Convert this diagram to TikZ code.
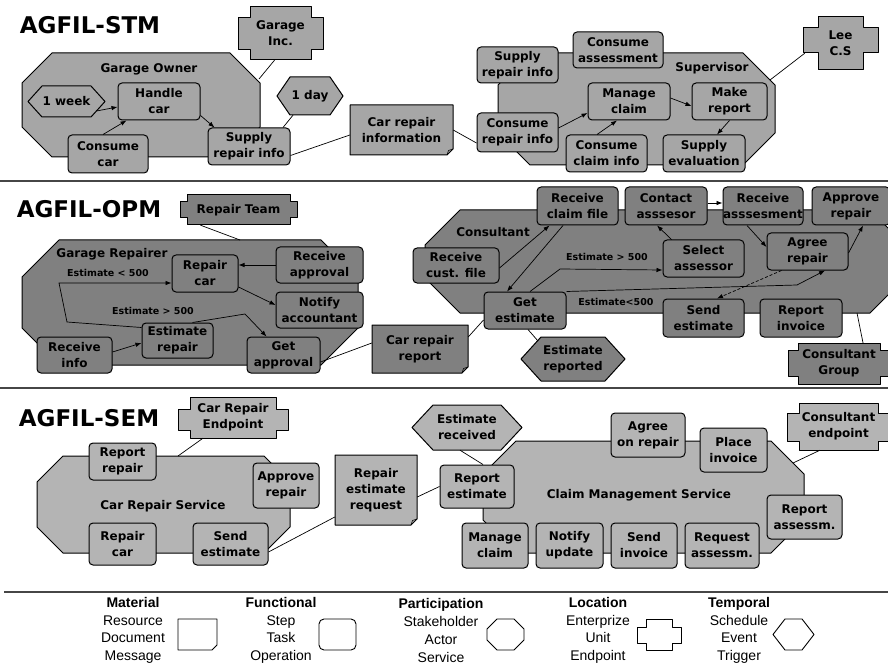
\documentclass[tikz,border=0pt]{standalone}
\usepackage{fontspec}
\setmainfont{DejaVu Sans}
\newfontfamily\legendfont{Liberation Sans}
\usetikzlibrary{arrows.meta,calc}

\definecolor{stmgray}{RGB}{166,166,166}
\definecolor{opmgray}{RGB}{128,128,128}
\definecolor{semgray}{RGB}{180,180,180}
\definecolor{rulegray}{RGB}{70,70,70}

\newcommand\dgnodefont{\fontsize{12}{16}\selectfont\bfseries}
\newcommand\dgsmallfont{\fontsize{9.5}{11}\selectfont\bfseries}
\newcommand\dgtitlefont{\fontsize{23}{26}\selectfont\bfseries}
\newcommand\dglegendfont{\legendfont\fontsize{14}{17.7}\selectfont}

\tikzset{
  shapeline/.style={draw=black, line width=1pt, line join=round},
  task/.style={shapeline, rounded corners=4pt, align=center, inner sep=0pt, font=\dgnodefont},
  lbl/.style={align=center, inner sep=0pt, font=\dgnodefont},
  small/.style={inner sep=0pt, font=\dgsmallfont},
  title/.style={inner sep=0pt, font=\dgtitlefont},
  legend/.style={align=center, inner sep=0pt, font=\dglegendfont},
  legline/.style={draw=black, line width=0.9pt, line join=round, fill=white},
  link/.style={draw=black, line width=0.7pt},
  flow/.style={link, -{Latex[length=6pt,width=4.5pt]}},
  rule/.style={draw=rulegray, line width=1.3pt},
}

% octagonal participant outline: x1 y1 x2 y2 cut fill
\newcommand\octa[6]{%
  \draw[shapeline, fill=#6] (#1+#5,#2) -- (#3-#5,#2) -- (#3,#2+#5) -- (#3,#4-#5)
    -- (#3-#5,#4) -- (#1+#5,#4) -- (#1,#4-#5) -- (#1,#2+#5) -- cycle;}

% cross-shaped location unit: name x1 y1 x2 y2 notch arm-top arm-bottom text
\newcommand\unitshape[9]{%
  \draw[shapeline, fill=\curfill] (#2+#6,#3) -- (#4-#6,#3) -- (#4-#6,#7) -- (#4,#7)
    -- (#4,#8) -- (#4-#6,#8) -- (#4-#6,#5) -- (#2+#6,#5) -- (#2+#6,#8) -- (#2,#8)
    -- (#2,#7) -- (#2+#6,#7) -- cycle;
  \node[lbl, minimum width={#4-#2}, minimum height={#5-#3}] (#1)
    at ({(#2+#4)/2},{(#3+#5)/2}) {#9};}

% hexagonal temporal element: name x1 y1 x2 y2 point text
\newcommand\hexshape[7]{%
  \draw[shapeline, fill=\curfill] (#2,{(#3+#5)/2}) -- (#2+#6,#3) -- (#4-#6,#3)
    -- (#4,{(#3+#5)/2}) -- (#4-#6,#5) -- (#2+#6,#5) -- cycle;
  \node[lbl, minimum width={#4-#2}, minimum height={#5-#3}] (#1)
    at ({(#2+#4)/2},{(#3+#5)/2}) {#7};}

% document with folded corner: name x1 y1 x2 y2 text
\newcommand\docshape[6]{%
  \draw[shapeline, fill=\curfill] (#2,#3) -- (#4,#3) -- (#4,#5-6) -- (#4-6,#5)
    -- (#2,#5) -- cycle;
  \draw[line width=0.6pt] (#4-6,#5) -- (#4-4.5,#5-4.5) -- (#4,#5-6);
  \node[lbl, minimum width={#4-#2}, minimum height={#5-#3}] (#1)
    at ({(#2+#4)/2},{(#3+#5)/2}) {#6};}

% rounded task box: name cx cy width height text
\newcommand\task[6]{%
  \node[task, fill=\curfill, minimum width=#4, minimum height=#5] (#1) at (#2,#3) {#6};}

\begin{document}
\begin{tikzpicture}[x=1pt,y=-1pt]
\useasboundingbox (0,0) rectangle (888,668);
\fill[white] (0,0) rectangle (888,668);

% ================= AGFIL-STM =================
\def\curfill{stmgray}
\node[title] (stm) at (90,25) {AGFIL-STM};
\octa{22}{53}{260}{157}{30}{stmgray}
\octa{498}{53}{775}{165}{32}{stmgray}
\node[lbl] (owner) at (149,69) {Garage Owner};
\node[lbl] (superv) at (712,68) {Supervisor};
\unitshape{garageinc}{238}{7}{323}{60}{12}{18}{50}{Garage\\Inc.}
\unitshape{lee}{803}{17}{878}{70}{15}{28}{53}{Lee\\C.S}
\hexshape{week}{28}{86}{105}{117}{14}{1 week}
\hexshape{day}{277}{77}{343}{115}{13}{1 day}
\docshape{carinfo}{350}{105}{453}{155}{Car repair\\information}
\task{handle}{159}{101.5}{82}{37}{Handle\\car}
\task{consumecar}{108}{154}{80}{38}{Consume\\car}
\task{supplyA}{249}{146.5}{82}{37}{Supply\\repair info}
\task{supplyB}{517.5}{65}{81}{36}{Supply\\repair info}
\task{consass}{618}{50}{90}{36}{Consume\\assessment}
\task{manage}{629}{101.5}{82}{37}{Manage\\claim}
\task{makerep}{729.5}{101.5}{75}{37}{Make\\report}
\task{conrep}{517.5}{132.5}{81}{39}{Consume\\repair info}
\task{conclaim}{606.5}{153.5}{81}{37}{Consume\\claim info}
\task{supeval}{704}{153.5}{82}{37}{Supply\\evaluation}

\coordinate (ownerNE) at (259,79);
\coordinate (supNE) at (770,80);
\draw[link] (ownerNE) -- ($(garageinc.south)+(-6,0)$);
\draw[link] ($(day.south)+(-17,0)$) -- ($(supplyA.north)+(34,0)$);
\draw[link] ($(supplyA.east)+(0,9)$) -- ($(carinfo.west)+(0,5)$);
\draw[link] (carinfo.east) -- ($(conrep.west)+(0,10.5)$);
\draw[link] ($(lee.south west)+(2,-17)$) -- (supNE);
\draw[flow] ($(week.center)+(30,9.5)$) -- ($(handle.west)+(0,5.5)$);
\draw[flow] ($(consumecar.north)+(-5,0)$) -- ($(handle.south west)+(9,0)$);
\draw[flow] ($(handle.south east)+(0,-5)$) -- ($(supplyA.north west)+(7,0)$);
\draw[flow] ($(conrep.east)+(0,-4.5)$) -- ($(manage.west)+(0,11.5)$);
\draw[flow] ($(conclaim.north)+(-9.5,0)$) -- ($(manage.south)+(-12,0)$);
\draw[flow] ($(manage.east)+(0,-3.5)$) -- ($(makerep.west)+(0,4.5)$);
\draw[flow] (makerep.south) -- ($(supeval.north)+(13,0)$);

\draw[rule] (0,181) -- (888,181);

% ================= AGFIL-OPM =================
\def\curfill{opmgray}
\node[title] (opm) at (89,209) {AGFIL-OPM};
\octa{22}{240}{358}{365}{37}{opmgray}
\octa{425}{210}{905}{313}{35}{opmgray}
\node[lbl] (garrep) at (112,254) {Garage Repairer};
\node[lbl] (consl) at (493,232) {Consultant};
\node[small] (ltA) at (108,273) {Estimate < 500};
\node[small] (gtA) at (153,311) {Estimate > 500};
\node[small] (gtB) at (607,257) {Estimate > 500};
\node[small] (ltB) at (616,302) {Estimate<500};
\unitshape{repteam}{180}{195}{297}{225}{7}{202}{218}{Repair Team}
\unitshape{congroup}{788}{343}{890}{384}{10}{350}{376}{Consultant\\Group}
\hexshape{estrepd}{521}{337}{625}{381}{20}{Estimate\\reported}
\docshape{carrep}{372}{325}{468}{373}{Car repair\\report}
\task{repaircar}{205}{273.5}{66}{37}{Repair\\car}
\task{recappr}{319.5}{265}{87}{36}{Receive\\approval}
\task{notify}{319.5}{310}{87}{36}{Notify\\accountant}
\task{estrep}{177.5}{340.5}{71}{35}{Estimate\\repair}
\task{recinfo}{74.5}{355}{75}{36}{Receive\\info}
\task{getappr}{283.5}{355}{73}{36}{Get\\approval}
\task{reccust}{456}{265.5}{86}{35}{Receive\\cust. file}
\task{recclaim}{577.5}{206}{81}{38}{Receive\\claim file}
\task{contact}{666}{206}{82}{38}{Contact\\asssesor}
\task{recass}{763}{206}{80}{38}{Receive\\asssesment}
\task{approve}{851}{206}{78}{38}{Approve\\repair}
\task{selass}{703.5}{258.5}{81}{37}{Select\\assessor}
\task{agree}{807.5}{251.5}{81}{37}{Agree\\repair}
\task{getest}{525}{310.5}{82}{37}{Get\\estimate}
\task{sendest}{703.5}{318}{81}{38}{Send\\estimate}
\task{repinv}{801}{318}{82}{38}{Report\\invoice}

\coordinate (grTop) at (240,240);
\coordinate (coBot) at (857,313);
\draw[link] ($(repteam.south)+(-38,0)$) -- (grTop);
\draw[link] ($(getappr.east)+(0,7)$) -- ($(carrep.west)+(0,-6)$);
\draw[link] ($(getest.west)+(0,9.5)$) -- ($(carrep.east)+(0,-12)$);
\draw[link] ($(getest.south)+(3,0)$) -- ($(estrepd.center)+(-35,-18)$);
\draw[link] ($(congroup.north)+(24,0)$) -- (coBot);
\draw[flow] (recappr.west) -- ($(repaircar.east)+(0,-8.5)$);
\draw[flow] ($(repaircar.east)+(0,13.5)$) -- ($(notify.west)+(0,-5)$);
\draw[flow] ($(recinfo.east)+(0,-3)$) -- ($(estrep.west)+(0,2.5)$);
\draw[flow] ($(estrep.north west)+(0,5)$) -- (67,322) -- (59,283)
  -- ($(repaircar.west)+(0,9.5)$);
\draw[flow] ($(estrep.north)+(15,0)$) -- (245,314) -- ($(getappr.north west)+(20,0)$);
\draw[flow] ($(reccust.east)+(0,2.5)$) -- ($(recclaim.south west)+(13,0)$);
\draw[flow] ($(recclaim.south)+(-14.5,0)$) -- ($(getest.north)+(-18,0)$);
\draw[flow] ($(selass.north west)+(9,0)$) -- ($(contact.south)+(-9,0)$);
\draw[flow] ($(contact.east)+(0,-3)$) -- ($(recass.west)+(0,-3)$);
\draw[flow] ($(recass.south)+(-16,0)$) -- ($(agree.west)+(0,-4.5)$);
\draw[flow] ($(agree.east)+(0,1.5)$) -- ($(approve.south)+(12,0)$);
\draw[flow] ($(getest.north)+(5,0)$) -- (560,269) -- ($(selass.west)+(0,11.5)$);
\draw[flow] (getest.north east) -- (797,285) -- ($(agree.south)+(17.5,0)$);
\draw[flow, dash pattern=on 3pt off 2pt] ($(agree.south west)+(15,0)$)
  -- ($(sendest.north)+(13.5,0)$);

\draw[rule] (0,388) -- (888,388);

% ================= AGFIL-SEM =================
\def\curfill{semgray}
\node[title] (sem) at (89,418) {AGFIL-SEM};
\octa{37}{456}{290}{553}{26}{semgray}
\octa{483}{441}{804}{553}{33}{semgray}
\node[lbl] (crs) at (163,506) {Car Repair Service};
\node[lbl] (cms) at (639,495) {Claim Management Service};
\unitshape{crend}{178}{397}{288}{438}{12}{409}{430}{Car Repair\\Endpoint}
\unitshape{conend}{787}{403}{890}{450}{12}{413}{441}{Consultant\\endpoint}
\hexshape{estrecv}{412}{405}{522}{450}{21}{Estimate\\received}
\docshape{reqdoc}{335}{455}{417}{525}{Repair\\estimate\\request}
\task{reprep}{122.5}{461.5}{67}{37}{Report\\repair}
\task{apprB}{286}{485.5}{66}{45}{Approve\\repair}
\task{repcarB}{122.5}{544}{67}{42}{Repair\\car}
\task{sendestB}{230.5}{544}{75}{42}{Send\\estimate}
\task{repest}{477}{486.5}{74}{43}{Report\\estimate}
\task{agreeon}{648}{435}{74}{44}{Agree\\on repair}
\task{placeinv}{733.5}{450}{67}{44}{Place\\invoice}
\task{repass}{804.5}{517}{75}{44}{Report\\assessm.}
\task{manclaim}{495}{545.5}{66}{45}{Manage\\claim}
\task{notupd}{569.5}{545.5}{67}{45}{Notify\\update}
\task{sendinv}{644}{545.5}{66}{45}{Send\\invoice}
\task{reqass}{722}{545.5}{74}{45}{Request\\assessm.}

\coordinate (crsTop) at (178,456);
\coordinate (cmsNE) at (793,463);
\draw[link] ($(crend.south)+(-30,0)$) -- (crsTop);
\draw[link] ($(sendestB.east)+(0,8)$) -- ($(reqdoc.west)+(0,27)$);
\draw[link] ($(reqdoc.east)+(0,7)$) -- (repest.west);
\draw[link] ($(estrecv.south)+(-7,0)$) -- ($(repest.north)+(6,0)$);
\draw[link] ($(conend.south)+(-18.5,0)$) -- (cmsNE);

\draw[rule] (4,592) -- (888,592);

% ================= legend =================
\node[legend] (lgmat) at (133,630.5) {\textbf{Material}\\Resource\\Document\\Message};
\node[legend] (lgfun) at (281,630.5) {\textbf{Functional}\\Step\\Task\\Operation};
\node[legend] (lgpar) at (441,630.5) {\textbf{Participation}\\Stakeholder\\Actor\\Service};
\node[legend] (lgloc) at (598,630.5) {\textbf{Location}\\Enterprize\\Unit\\Endpoint};
\node[legend] (lgtmp) at (739,630.5) {\textbf{Temporal}\\Schedule\\Event\\Trigger};

\draw[legline] (178,619) -- (217,619) -- (217,645) -- (212,650) -- (178,650) -- cycle;
\draw[legline, rounded corners=5pt] (319,619) rectangle (356,650);
\draw[legline] (497,619) -- (514,619) -- (524,629) -- (524,640) -- (514,650) -- (497,650)
  -- (487,640) -- (487,629) -- cycle;
\draw[legline] (646,619) -- (672,619) -- (672,627) -- (681,627) -- (681,643) -- (672,643)
  -- (672,650) -- (646,650) -- (646,643) -- (637,643) -- (637,627) -- (646,627) -- cycle;
\draw[legline] (773,634.5) -- (785,619) -- (802,619) -- (814,634.5) -- (802,650)
  -- (785,650) -- cycle;
\end{tikzpicture}
\end{document}
